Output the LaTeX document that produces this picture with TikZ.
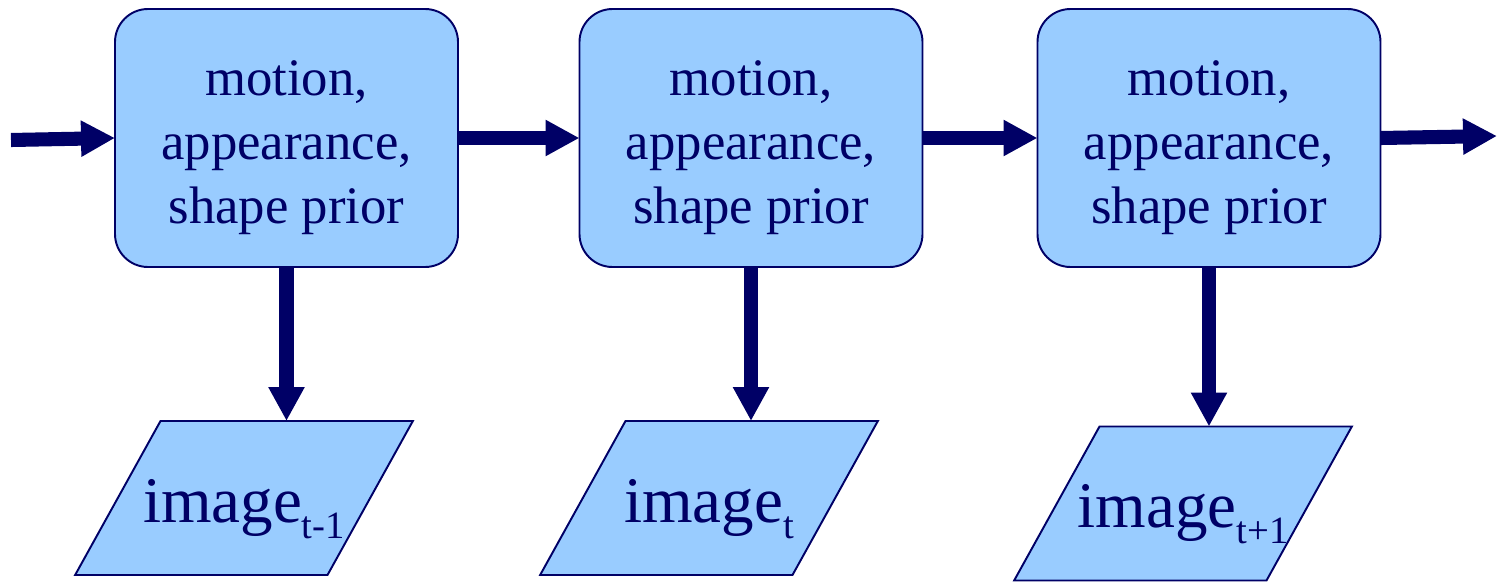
\documentclass[tikz,border=0pt]{standalone}
\usepackage{fontspec}
\setmainfont{Liberation Serif}
\usetikzlibrary{arrows.meta,positioning,shapes.geometric}
\definecolor{navy}{HTML}{000066}
\definecolor{skyfill}{HTML}{99CCFF}
\newcommand{\imglabel}[1]{\makebox[3.34cm]{image\raisebox{-0.32cm}{\fontsize{22}{22}\selectfont #1}}}

\begin{document}
\begin{tikzpicture}[
  prior/.style={draw=navy, fill=skyfill, line width=1.1pt, rounded corners=0.66cm,
    minimum width=6.86cm, minimum height=5.16cm, inner sep=0pt, outer sep=0pt,
    align=center, text=navy, font=\fontsize{30}{36.6}\selectfont},
  imgbox/.style={trapezium, trapezium left angle=61, trapezium right angle=119,
    draw=navy, fill=skyfill, line width=1.1pt, inner sep=0pt, outer sep=0pt,
    text width=3.34cm, align=center,
    text height=2.02cm, text depth=1.06cm, text=navy, font=\fontsize{37}{40}\selectfont},
  feed/.style={navy, line width=8pt, -{Triangle[length=0.68cm,width=0.68cm]}}
]
  \useasboundingbox (0,0) rectangle (29.98,11.62);
  % prior boxes
  \node[prior] (p1) at (5.73,8.86)  {\rule{0pt}{1.08cm}motion,\\appearance,\\shape prior};
  \node[prior] (p2) at (15.02,8.86) {\rule{0pt}{1.08cm}motion,\\appearance,\\shape prior};
  \node[prior] (p3) at (24.18,8.86) {\rule{0pt}{1.08cm}motion,\\appearance,\\shape prior};
  % observed images
  \node[imgbox] (i1) at (4.88,1.66)  {\imglabel{t-1}};
  \node[imgbox] (i2) at (14.18,1.66) {\imglabel{t}};
  \node[imgbox] (i3) at (23.66,1.55) {\imglabel{t+1}};
  % chain
  \coordinate (in)  at (0.22,8.82);
  \coordinate (out) at (29.94,8.9);
  \draw[feed] (in) -- (p1.west);
  \draw[feed] (p1) -- (p2);
  \draw[feed] (p2) -- (p3);
  \draw[feed] (p3.east) -- (out);
  % emissions
  \foreach \k in {1,2,3}
    \draw[feed] (p\k.south) -- (p\k.south |- i\k.top side);
\end{tikzpicture}
\end{document}
